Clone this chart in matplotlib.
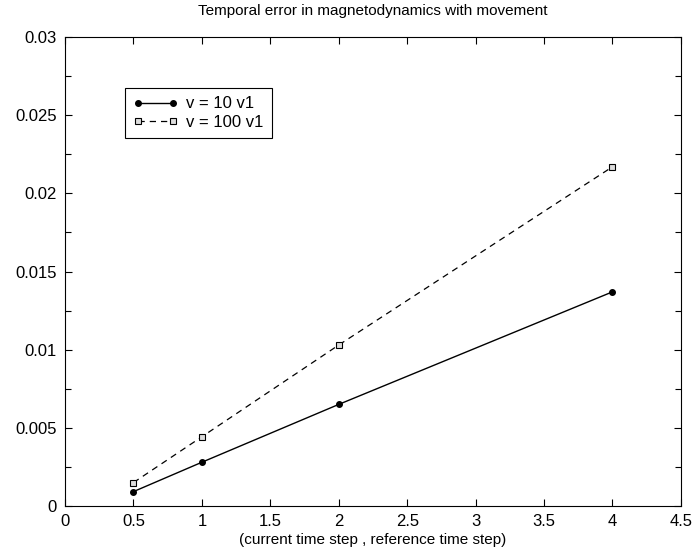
import matplotlib
matplotlib.use('Agg')
import matplotlib.pyplot as plt
from matplotlib.ticker import MultipleLocator

plt.rcParams['font.family'] = ['Liberation Sans', 'DejaVu Sans']

# data
steps = [0.5, 1, 2, 4]
err_v10 = [0.00092, 0.0028, 0.0065, 0.0137]
err_v100 = [0.0015, 0.00443, 0.0103, 0.0217]
labels = ['v = 10 v1', 'v = 100 v1']

fig = plt.figure(figsize=(6.92, 5.53), dpi=100)
ax = fig.add_axes([0.094, 0.085, 0.89, 0.848])

ax.plot(steps, err_v10, '-', color='black', lw=1.0, marker='o', ms=4,
        label=labels[0])
ax.plot(steps, err_v100, '--', color='black', lw=0.9, marker='s', ms=4,
        mfc='#dddddd', mec='black', mew=0.8, dashes=(5, 4), label=labels[1])

ax.set_xlim(0, 4.5)
ax.set_ylim(0, 0.03)
ax.yaxis.set_minor_locator(MultipleLocator(0.0025))
ax.set_xticks([0, 0.5, 1, 1.5, 2, 2.5, 3, 3.5, 4, 4.5])
ax.set_xticklabels(['0', '0.5', '1', '1.5', '2', '2.5', '3', '3.5', '4', '4.5'])
ax.set_yticks([0, 0.005, 0.01, 0.015, 0.02, 0.025, 0.03])
ax.set_yticklabels(['0', '0.005', '0.01', '0.015', '0.02', '0.025', '0.03'])
ax.tick_params(which='both', direction='in', top=True, right=True,
               labelsize=12, width=0.8)
ax.tick_params(which='major', length=5, pad=6)
ax.tick_params(which='minor', length=4)
for s in ax.spines.values():
    s.set_linewidth(0.8)

ax.set_title('Temporal error in magnetodynamics with movement', fontsize=11, pad=16)
ax.set_xlabel('(current time step , reference time step)', fontsize=11, labelpad=3)

leg = ax.legend(loc='upper left', bbox_to_anchor=(0.097, 0.891), borderaxespad=0,
                fancybox=False, edgecolor='black', framealpha=1, fontsize=12,
                numpoints=2, handlelength=2.7, handletextpad=0.5,
                labelspacing=0.2, borderpad=0.5)
leg.get_frame().set_linewidth(0.8)

plt.savefig('out.png', dpi=100)
plt.close()
